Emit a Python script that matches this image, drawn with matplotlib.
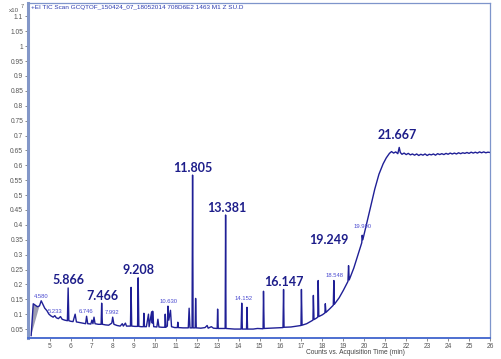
import matplotlib
matplotlib.use("Agg")
import matplotlib.pyplot as plt

# chromatogram trace (min, counts x1e7)
time = [4.10, 4.20, 4.30, 4.40, 4.50, 4.58, 4.65, 4.75, 4.85, 4.95,
        5.05, 5.15, 5.23, 5.30, 5.40, 5.50, 5.58, 5.70, 5.83, 5.866,
        5.90, 6.00, 6.10, 6.20, 6.26, 6.40, 6.55, 6.70, 6.746, 6.80,
        6.95, 7.00, 7.05, 7.10, 7.15, 7.30, 7.44, 7.466, 7.50, 7.65,
        7.80, 7.95, 7.992, 8.05, 8.20, 8.35, 8.45, 8.50, 8.60, 8.65,
        8.84, 8.87, 8.90, 9.05, 9.18, 9.208, 9.24, 9.35, 9.46, 9.48,
        9.51, 9.60, 9.70, 9.73, 9.85, 9.88, 9.90, 9.95, 10.10, 10.15,
        10.20, 10.35, 10.48, 10.50, 10.53, 10.60, 10.63, 10.67, 10.75, 10.80,
        10.95, 11.08, 11.10, 11.13, 11.35, 11.60, 11.64, 11.68, 11.78, 11.805,
        11.83, 11.93, 11.95, 11.98, 12.20, 12.40, 12.50, 12.55, 12.70, 12.80,
        12.98, 13.00, 13.03, 13.20, 13.36, 13.381, 13.40, 13.60, 13.80, 14.12,
        14.152, 14.18, 14.38, 14.40, 14.43, 14.70, 14.90, 15.17, 15.19, 15.22,
        15.50, 15.80, 16.12, 16.147, 16.17, 16.50, 16.80, 16.98, 17.00, 17.03,
        17.25, 17.50, 17.55, 17.57, 17.60, 17.70, 17.78, 17.80, 17.83, 18.00,
        18.12, 18.14, 18.17, 18.35, 18.52, 18.548, 18.57, 18.80, 19.00, 19.22,
        19.249, 19.28, 19.50, 19.70, 19.88, 19.90, 19.93, 20.10, 20.30, 20.50,
        20.70, 20.90, 21.05, 21.20, 21.30, 21.40, 21.50, 21.60, 21.667, 21.72,
        21.80, 21.90, 22.00, 22.10, 22.20, 22.30, 22.40, 22.50, 22.60, 22.70,
        22.80, 22.90, 23.00, 23.10, 23.20, 23.30, 23.40, 23.50, 23.60, 23.70,
        23.80, 23.90, 24.00, 24.10, 24.20, 24.30, 24.40, 24.50, 24.60, 24.70,
        24.80, 24.90, 25.00, 25.10, 25.20, 25.30, 25.40, 25.50, 25.60, 25.70,
        25.80, 25.90, 26.00]
counts = [0.028, 0.135, 0.130, 0.125, 0.128, 0.145, 0.135, 0.120, 0.112, 0.100,
          0.094, 0.090, 0.095, 0.088, 0.085, 0.092, 0.083, 0.080, 0.078, 0.188,
          0.078, 0.076, 0.075, 0.100, 0.074, 0.072, 0.070, 0.068, 0.093, 0.068,
          0.067, 0.080, 0.068, 0.090, 0.068, 0.066, 0.066, 0.137, 0.066, 0.064,
          0.063, 0.070, 0.090, 0.066, 0.062, 0.060, 0.068, 0.060, 0.070, 0.060,
          0.060, 0.190, 0.060, 0.059, 0.059, 0.222, 0.059, 0.058, 0.058, 0.103,
          0.058, 0.058, 0.100, 0.058, 0.108, 0.070, 0.110, 0.058, 0.057, 0.083,
          0.057, 0.056, 0.056, 0.100, 0.056, 0.060, 0.127, 0.080, 0.113, 0.058,
          0.055, 0.055, 0.073, 0.055, 0.054, 0.054, 0.120, 0.054, 0.054, 0.567,
          0.054, 0.054, 0.153, 0.054, 0.053, 0.055, 0.062, 0.053, 0.058, 0.053,
          0.052, 0.117, 0.052, 0.052, 0.052, 0.433, 0.052, 0.051, 0.050, 0.050,
          0.137, 0.050, 0.050, 0.123, 0.050, 0.050, 0.052, 0.051, 0.177, 0.052,
          0.053, 0.054, 0.055, 0.183, 0.056, 0.057, 0.060, 0.062, 0.183, 0.063,
          0.068, 0.078, 0.080, 0.163, 0.082, 0.086, 0.090, 0.213, 0.092, 0.098,
          0.104, 0.135, 0.106, 0.118, 0.130, 0.213, 0.133, 0.155, 0.180, 0.210,
          0.263, 0.215, 0.255, 0.300, 0.340, 0.365, 0.350, 0.400, 0.460, 0.520,
          0.570, 0.605, 0.625, 0.640, 0.646, 0.641, 0.645, 0.639, 0.660, 0.643,
          0.637, 0.641, 0.636, 0.640, 0.635, 0.638, 0.634, 0.638, 0.633, 0.637,
          0.634, 0.638, 0.633, 0.637, 0.635, 0.638, 0.634, 0.639, 0.636, 0.639,
          0.636, 0.640, 0.637, 0.641, 0.638, 0.641, 0.638, 0.642, 0.639, 0.642,
          0.640, 0.643, 0.640, 0.644, 0.641, 0.644, 0.641, 0.645, 0.642, 0.645,
          0.642, 0.644, 0.643]

# big labels: text, x, y (label anchor, bottom centre)
big_labels = ["5.866", "7.466", "9.208", "11.805", "13.381", "16.147", "19.249", "21.667"]
big_x = [5.90, 7.48, 9.21, 11.81, 13.45, 16.15, 18.29, 21.57]
big_y = [0.193, 0.142, 0.227, 0.572, 0.438, 0.188, 0.330, 0.683]

small_labels = ["4.580", "5.233", "6.746", "7.992", "10.630", "14.152", "18.548", "19.900"]
small_x = [4.57, 5.24, 6.74, 7.98, 10.67, 14.24, 18.57, 19.90]
small_y = [0.150, 0.102, 0.101, 0.097, 0.134, 0.144, 0.221, 0.387]

xticks = [5, 6, 7, 8, 9, 10, 11, 12, 13, 14, 15, 16, 17, 18, 19, 20, 21, 22, 23, 24, 25, 26]
yticks = [0.05, 0.1, 0.15, 0.2, 0.25, 0.3, 0.35, 0.4, 0.45, 0.5, 0.55, 0.6, 0.65,
          0.7, 0.75, 0.8, 0.85, 0.9, 0.95, 1.0, 1.05, 1.1]
ytick_labels = ["0.05", "0.1", "0.15", "0.2", "0.25", "0.3", "0.35", "0.4", "0.45", "0.5",
                "0.55", "0.6", "0.65", "0.7", "0.75", "0.8", "0.85", "0.9", "0.95", "1",
                "1.05", "1.1"]

fig = plt.figure(figsize=(5.01, 3.59), dpi=100)
ax = fig.add_axes([28 / 501, 1 - 338 / 359, 462 / 501, 335 / 359])

line_col = "#1f1f96"
ax.plot(time, counts, color=line_col, lw=1.0)

# shaded integration area of first peak
ax.fill(time[:5], counts[:5], color="#9d9db0", lw=0)

ax.set_xlim(3.95, 25.97)
ax.set_ylim(0.02, 1.145)
ax.set_xticks(xticks)
ax.set_xticklabels([str(t) for t in xticks])
ax.set_yticks(yticks)
ax.set_yticklabels(ytick_labels)
ax.tick_params(axis="both", labelsize=4.8, labelcolor="#555555", color="#777777",
               length=2, width=0.6, pad=1.5)
for lab in ax.get_xticklabels() + ax.get_yticklabels():
    lab.set_family("Liberation Sans")

ax.spines["left"].set_color("#8397c8")
ax.spines["left"].set_linewidth(2.2)
ax.spines["bottom"].set_color("#4d6fd0")
ax.spines["bottom"].set_linewidth(1.4)
for s in ["top", "right"]:
    ax.spines[s].set_color("#7e95cb")
    ax.spines[s].set_linewidth(0.9)

for txt, x, y in zip(big_labels, big_x, big_y):
    ax.text(x, y, txt, ha="center", va="bottom", fontsize=9, fontweight="bold",
            family="Lato", color="#1d1d8a")
for txt, x, y in zip(small_labels, small_x, small_y):
    ax.text(x, y, txt, ha="center", va="bottom", fontsize=4.2,
            family="Liberation Sans", color="#4a4ad0")

fig.text(31 / 501, 1 - 8 / 359, "+EI TIC Scan GCQTOF_150424_07_18052014 708D6E2 1463 M1 Z SU.D",
         ha="left", va="center", fontsize=4.6, family="Liberation Sans", color="#2b3bb0")
fig.text(9 / 501, 1 - 10 / 359, "x10", ha="left", va="center", fontsize=4.5,
         family="Liberation Sans", color="#555555")
fig.text(21 / 501, 1 - 7 / 359, "7", ha="left", va="center", fontsize=4,
         family="Liberation Sans", color="#555555")
fig.text(355 / 501, 1 - 352 / 359, "Counts vs. Acquisition Time (min)", ha="center",
         va="center", fontsize=4.8, family="Liberation Sans", color="#444444")

fig.savefig("out.png", dpi=100)
